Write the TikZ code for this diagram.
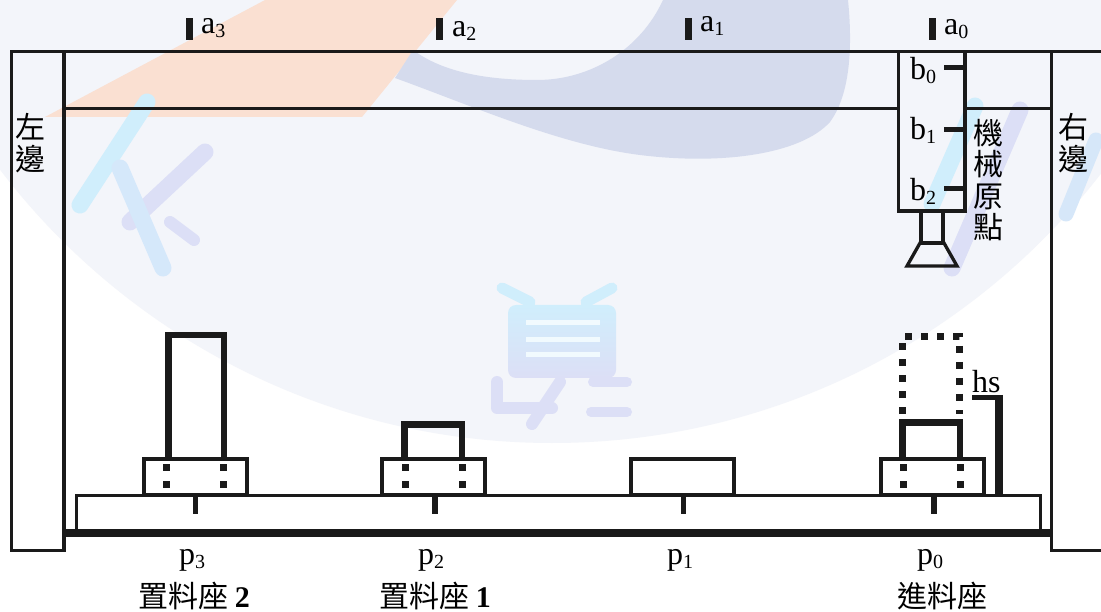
\documentclass[tikz,border=0pt]{standalone}
\usepackage{fontspec}
\setmainfont{Liberation Serif}
\newfontfamily\cjk{Noto Sans CJK TC}
\definecolor{ink}{RGB}{26,26,26}
\definecolor{wash}{RGB}{243,245,250}
\definecolor{peach}{RGB}{250,224,210}
\definecolor{slate}{RGB}{213,219,237}
\definecolor{wmcyan}{RGB}{208,238,252}
\definecolor{wmlav}{RGB}{220,223,246}
% subscript set a little lower and smaller than the letter
\newcommand\sbx[1]{\raisebox{-4pt}{\fontsize{20}{20}\selectfont #1}}
\begin{document}
\begin{tikzpicture}[x=1pt,y=-1pt,
  thinline/.style={draw=ink,line width=3.3pt},
  blockline/.style={draw=ink,line width=4pt},
  pieceline/.style={draw=ink,line width=6.5pt},
  wm/.style={line width=17pt,line cap=round},
  lat/.style={inner sep=0pt,font=\fontsize{32}{32}\selectfont},
  han/.style={inner sep=0pt,align=center,font=\cjk\fontsize{30}{31.3}\selectfont},
]
\useasboundingbox (0,0) rectangle (1101,612);
\fill[white] (0,0) rectangle (1101,612);

% faint background emblem
\begin{scope}
  \clip (0,0) rectangle (1101,612);
  \fill[wash] (552,-251) circle (694pt);
  \fill[peach] (45,117) -- (265,0) -- (457,0) -- (362,117) -- cycle;
  \fill[slate] (395,78) .. controls (470,105) and (560,145) .. (640,155)
     .. controls (720,165) and (800,155) .. (830,122)
     .. controls (852,92) and (852,40) .. (848,0) -- (663,0)
     .. controls (640,50) and (590,80) .. (537,80)
     .. controls (480,80) and (440,70) .. (413,50) -- cycle;
  % left glyph
  \draw[wm,wmcyan] (147,102) -- (80,205);
  \draw[wm,wmlav] (205,152) -- (130,222);
  \draw[wm,wmcyan!60!wmlav] (120,168) -- (163,268);
  \draw[wm,wmlav,line width=12pt] (170,222) -- (194,240);
  % middle glyph
  \shade[top color=wmcyan,bottom color=wmlav,rounded corners=8pt] (508,305) rectangle (616,378);
  \foreach \yy in {323,340,355} \fill[white!70!wmcyan] (526,\yy-2.5) rectangle (600,\yy+2.5);
  \draw[wm,wmcyan,line width=11pt] (502,288) -- (530,302);
  \draw[wm,wmcyan,line width=11pt] (612,288) -- (586,302);
  \draw[wm,wmlav,line width=12pt,line join=round] (497,382) -- (497,408) -- (552,408);
  \draw[wm,wmlav,line width=12pt] (560,382) -- (532,424);
  \draw[wm,wmlav,line width=10pt] (593,382) -- (627,382);
  \draw[wm,wmlav,line width=10pt] (591,412) -- (627,412);
  % right glyph
  \draw[wm,wmcyan] (975,106) -- (932,204);
  \draw[wm,wmlav] (1020,110) -- (952,268);
  \draw[wm,wmcyan!50!wmlav,line width=15pt] (1096,140) -- (1066,214);
\end{scope}

% side pillars and the two rails
\draw[thinline] (11.5,51.5) rectangle (64,550.5);
\draw[thinline] (1051.5,51.5) rectangle (1112,550.5);
\draw[thinline] (64,51.5) -- (1051.5,51.5);
\draw[thinline] (64,108.5) -- (898.5,108.5);
\draw[thinline] (965,108.5) -- (1051.5,108.5);

% horizontal position sensors a0..a3
\foreach \xx in {189.5,439,688.5,932} \fill[ink] (\xx-3.5,18) rectangle (\xx+3.5,40);
\node[lat,anchor=base west] (a3) at (201,34) {a\sbx{3}};
\node[lat,anchor=base west] (a2) at (452,37) {a\sbx{2}};
\node[lat,anchor=base west] (a1) at (700,32) {a\sbx{1}};
\node[lat,anchor=base west] (a0) at (944,35) {a\sbx{0}};

% vertical slide with sensors b0..b2
\draw[thinline] (898.5,51.5) rectangle (965,211);
\foreach \yy in {68,130,189} \draw[ink,line width=5pt] (944,\yy) -- (963,\yy);
\node[lat,anchor=base west] (b0) at (910,80) {b\sbx{0}};
\node[lat,anchor=base west] (b1) at (910,140) {b\sbx{1}};
\node[lat,anchor=base west] (b2) at (910,201) {b\sbx{2}};

% gripper
\draw[thinline] (921,211) rectangle (943,243);
\draw[thinline,line join=miter] (920,243) -- (944,243) -- (957,266) -- (907,266) -- cycle;

% side labels
\node[han] (left) at (31,143) {左\\邊};
\node[han] (right) at (1073,143) {右\\邊};
\node[han] (home) at (988,180) {機\\械\\原\\點};

% table and base
\draw[draw=ink,line width=3pt] (76,533) -- (76,495.5) -- (1040,495.5) -- (1040,533);
\draw[ink,line width=8.5pt] (64,533) -- (1051.5,533);
\foreach \xx in {195.5,435,683.5,934} \draw[ink,line width=5.5pt] (\xx,495) -- (\xx,514);

% station blocks
\foreach \cx in {195,433,682.5,932}
  \draw[blockline] (\cx-51.5,459) rectangle (\cx+51.5,495);
\foreach \cx in {195,433.5,932}
  \foreach \dx in {-28.5,28.5}
    \foreach \yy in {467.5,484.5}
      \fill[ink] (\cx+\dx-3.5,\yy-3.5) rectangle ++(7,7);

% work pieces
\draw[pieceline,line join=miter] (168.25,457) -- (168.25,335.25) -- (223.75,335.25) -- (223.75,457);
\draw[pieceline,line join=miter] (404.25,457) -- (404.25,424.25) -- (461.75,424.25) -- (461.75,457);
\draw[pieceline,line join=miter] (902.25,457) -- (902.25,422.5) -- (959.75,422.5) -- (959.75,457);
\draw[ink,line width=7pt,dash pattern=on 7pt off 9pt] (902.5,414) -- (902.5,336.5) -- (959.5,336.5) -- (959.5,414);

% height sensor hs
\draw[ink,line width=5pt] (972,397.5) -- (1003,397.5);
\draw[ink,line width=8pt] (999,395) -- (999,495);
\node[lat,anchor=base west] (hs) at (972,392) {hs};

% position labels
\node[lat,anchor=base west] (p3) at (179,564) {p\sbx{3}};
\node[lat,anchor=base west] (p2) at (418,564) {p\sbx{2}};
\node[lat,anchor=base west] (p1) at (667,564) {p\sbx{1}};
\node[lat,anchor=base west] (p0) at (917,564) {p\sbx{0}};

\node[han] (st2) at (194,596) {置料座 \fontspec{Liberation Serif}\bfseries 2};
\node[han] (st1) at (435,596) {置料座 \fontspec{Liberation Serif}\bfseries 1};
\node[han] (feed) at (942,596) {進料座};
\end{tikzpicture}
\end{document}
